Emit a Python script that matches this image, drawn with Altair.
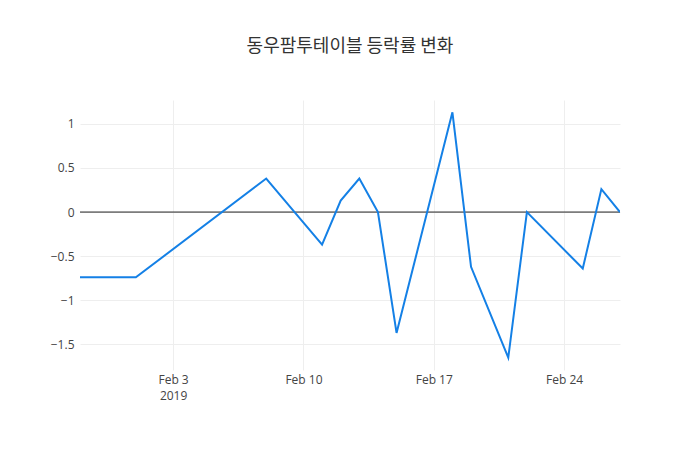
import altair as alt
import pandas as pd

dates = ["2019-01-29", "2019-02-01", "2019-02-08", "2019-02-11", "2019-02-12",
         "2019-02-13", "2019-02-14", "2019-02-15", "2019-02-18", "2019-02-19",
         "2019-02-21", "2019-02-22", "2019-02-25", "2019-02-26", "2019-02-27"]
rates = [-0.74, -0.74, 0.38, -0.37, 0.13,
         0.38, 0.0, -1.37, 1.13, -0.62,
         -1.65, 0.0, -0.64, 0.26, 0.0]
tick_days = [3, 10, 17, 24]
y_ticks = [-1.5, -1, -0.5, 0, 0.5, 1]

df = pd.DataFrame({"date": dates, "rate": rates})

x_scale = alt.Scale(type="utc",
                    domain=[alt.DateTime(year=2019, month=1, date=29, utc=True),
                            alt.DateTime(year=2019, month=2, date=27, utc=True)])
y_scale = alt.Scale(domain=[-1.79, 1.27], nice=False, zero=False)

label_expr = ("utcdate(datum.value) == 3 ? [utcFormat(datum.value, '%b %-d'), '2019'] "
              ": utcFormat(datum.value, '%b %-d')")

line = alt.Chart(df).mark_line(color="#1480e6", strokeWidth=2, clip=True).encode(
    x=alt.X("date:T", scale=x_scale, title=None,
            axis=alt.Axis(values=[alt.DateTime(year=2019, month=2, date=d, utc=True) for d in tick_days],
                          labelExpr=label_expr, grid=True, gridColor="#eeeeee",
                          domain=False, ticks=False, labelPadding=4, labelFontSize=12,
                          labelColor="#444444", labelFont="Open Sans", labelLineHeight=16)),
    y=alt.Y("rate:Q", scale=y_scale, title=None,
            axis=alt.Axis(values=y_ticks, grid=True, gridColor="#eeeeee", domain=False, ticks=False,
                          labelExpr="replace(format(datum.value, ''), '-', '\u2212')",
                          labelPadding=6, labelFontSize=12, labelColor="#444444",
                          labelFont="Open Sans")),
)

zero = alt.Chart(pd.DataFrame({"y": [0]})).mark_rule(color="#222222", strokeWidth=1).encode(
    y=alt.Y("y:Q", scale=y_scale)
)

chart = alt.layer(zero, line).properties(
    width=540,
    height=270,
    autosize=alt.AutoSizeParams(type="none"),
    padding={"left": 72, "top": 92, "right": 72, "bottom": 72},
    title=alt.TitleParams("동우팜투테이블 등락률 변화", font="Noto Sans CJK KR", fontSize=18,
                          fontWeight="normal", color="#333333", anchor="middle", offset=44),
).configure_view(stroke=None)

chart.save("out.html", embed_options={"renderer": "svg", "actions": False})
